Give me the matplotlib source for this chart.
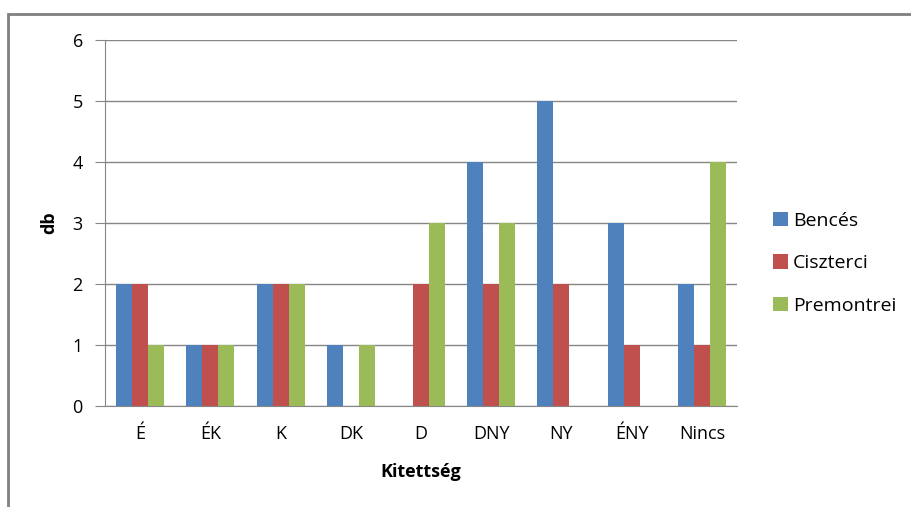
import matplotlib
matplotlib.use("Agg")
import matplotlib.pyplot as plt
import numpy as np
from matplotlib.patches import Rectangle

categories = ["É", "ÉK", "K", "DK", "D", "DNY", "NY", "ÉNY", "Nincs"]
bences     = [2, 1, 2, 1, 0, 4, 5, 3, 2]
ciszterci  = [2, 1, 2, 0, 2, 2, 2, 1, 1]
premontrei = [1, 1, 2, 1, 3, 3, 0, 0, 4]

series = [("Bencés", bences, "#4F81BD"),
          ("Ciszterci", ciszterci, "#C0504D"),
          ("Premontrei", premontrei, "#9BBB59")]

plt.rcParams["font.family"] = ["Open Sans", "DejaVu Sans"]

fig = plt.figure(figsize=(9.11, 5.07), dpi=100)
# chart-area frame (cut off at right and bottom like the screenshot)
fig.patches.append(Rectangle((8 / 911, -0.1), 1.2, 1.1 - 14 / 507, transform=fig.transFigure,
                             fill=False, edgecolor="#808080", linewidth=2))

ax = fig.add_axes([105 / 911, 1 - 406 / 507, 632 / 911, 366 / 507])
x = np.arange(len(categories))
w = 0.228
for i, (name, vals, color) in enumerate(series):
    ax.bar(x + (i - 1) * w, vals, width=w, color=color, label=name, zorder=3)

ax.set_xlim(-0.5, len(categories) - 0.5)
ax.set_ylim(0, 6)
ax.set_yticks(range(7))
ax.set_xticks(x)
ax.set_xticklabels(categories)
ax.tick_params(axis="y", length=7, color="#868686", labelsize=13, pad=9)
ax.tick_params(axis="x", length=0, labelsize=13, pad=14)
ax.grid(axis="y", color="#868686", linewidth=1, zorder=0)
for side in ["top", "right"]:
    ax.spines[side].set_visible(False)
ax.spines["left"].set_color("#868686")
ax.spines["bottom"].set_color("#868686")

ax.set_ylabel("db", fontsize=13, fontweight="bold", labelpad=10)
ax.set_xlabel("Kitettség", fontsize=13, fontweight="bold", labelpad=14)

ax.legend(loc="center left", bbox_to_anchor=(1.03, 0.39), frameon=False, fontsize=14,
          handlelength=0.75, handleheight=0.75, handletextpad=0.25, labelspacing=1.25)

fig.savefig("out.png", dpi=100)
